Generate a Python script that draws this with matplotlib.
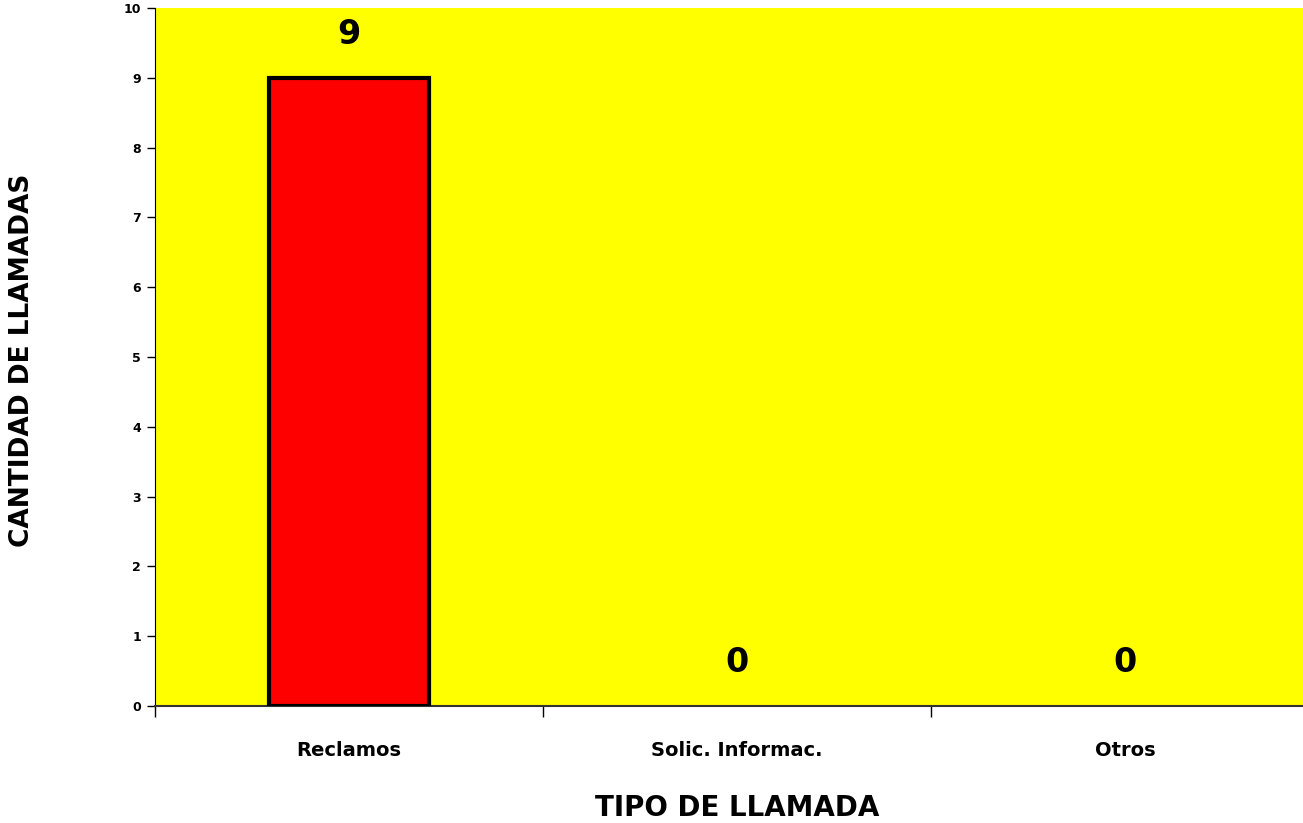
import matplotlib.pyplot as plt
from matplotlib.ticker import FixedLocator

categorias = ['Reclamos', 'Solic. Informac.', 'Otros']
cantidades = [9, 0, 0]
y_ticks = list(range(0, 11))

fig = plt.figure(figsize=(13.03, 8.23), dpi=100)
# the plot area runs a little past the right edge of the picture
ax = fig.add_axes([155 / 1303, 1 - 706 / 823, 1164 / 1303, 698 / 823])
ax.set_facecolor('#ffff00')

x = list(range(len(categorias)))
anchos_borde = [3 if v else 0 for v in cantidades]
ax.bar(x, cantidades, width=0.41, color='#ff0000', edgecolor='black',
       linewidth=anchos_borde, zorder=3)

for xi, v in zip(x, cantidades):
    ax.annotate(str(v), (xi, v), xytext=(0, 31), textcoords='offset points',
                ha='center', va='center', fontsize=24, fontweight='bold', zorder=4)

ax.set_xlim(-0.5, 2.5)
ax.set_ylim(0, 10)
ax.set_yticks(y_ticks)
ax.tick_params(axis='y', labelsize=9, length=6, width=1, pad=4)
for t in ax.get_yticklabels():
    t.set_fontweight('bold')

ax.set_xticks(x)
ax.set_xticklabels(categorias, fontsize=14, fontweight='bold')
ax.tick_params(axis='x', which='major', length=0, pad=25)
ax.xaxis.set_minor_locator(FixedLocator([-0.5, 0.5, 1.5]))
ax.tick_params(axis='x', which='minor', length=8, width=1, direction='out')

ax.spines['top'].set_visible(False)
ax.spines['right'].set_visible(False)
ax.spines['left'].set_color('black')
ax.spines['bottom'].set_color('#333333')
ax.spines['bottom'].set_linewidth(1.5)

fig.text(737 / 1303, 1 - 808 / 823, 'TIPO DE LLAMADA', ha='center', va='center',
         fontsize=20, fontweight='bold')
fig.text(22 / 1303, 1 - 360 / 823, 'CANTIDAD DE LLAMADAS', rotation=90, ha='center', va='center',
         fontsize=19, fontweight='bold')

fig.savefig('out.png', dpi=100)
